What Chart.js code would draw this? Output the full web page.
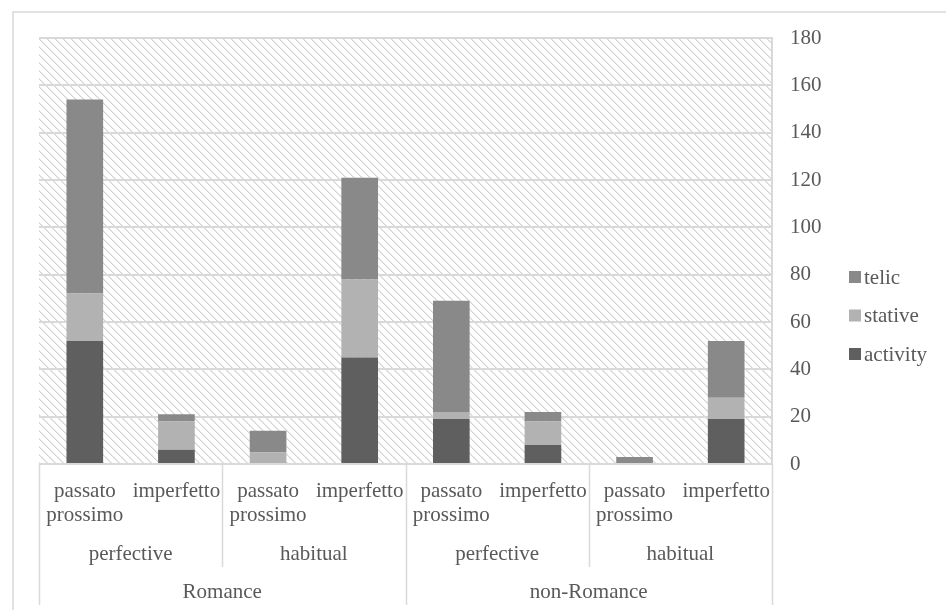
<!DOCTYPE html>
<html>
<head>
<meta charset="utf-8">
<script src="https://cdn.jsdelivr.net/npm/chart.js@4"></script>
<style>
  html, body { margin: 0; padding: 0; background: #ffffff; }
  #wrap { width: 946px; height: 610px; position: relative; }
</style>
</head>
<body>
<div id="wrap"><canvas id="chart"></canvas></div>
<script>
// Tense forms (innermost category level)
const forms = ['passato prossimo', 'imperfetto', 'passato prossimo', 'imperfetto',
               'passato prossimo', 'imperfetto', 'passato prossimo', 'imperfetto'];
// Aspect groups (middle level), each spanning two forms
const aspects = ['perfective', 'habitual', 'perfective', 'habitual'];
// Language groups (outer level), each spanning four forms
const languages = ['Romance', 'non-Romance'];

// Counts per aktionsart class
const activity = [52, 6, 0, 45, 19, 8, 0, 19];
const stative   = [20, 12, 5, 33, 3, 10, 0, 9];
const telic     = [82, 3, 9, 43, 47, 4, 3, 24];

// Value axis ticks
const yTicks = [0, 20, 40, 60, 80, 100, 120, 140, 160, 180];

const TEXT = '#595959';
const LINE = '#d9d9d9';
const FONT = '"Liberation Serif", "Times New Roman", serif';

// Diagonal hatch used for the plot background
function makeHatch() {
  const c = document.createElement('canvas');
  c.width = 8; c.height = 8;
  const g = c.getContext('2d');
  g.fillStyle = '#ffffff';
  g.fillRect(0, 0, 8, 8);
  for (let y = 0; y < 8; y++) {
    for (let x = 0; x < 8; x++) {
      const d = ((x - y) % 8 + 8) % 8;
      if (d === 0) { g.fillStyle = '#d4d4d4'; g.fillRect(x, y, 1, 1); }
      else if (d === 1) { g.fillStyle = '#e6e6e6'; g.fillRect(x, y, 1, 1); }
    }
  }
  return c;
}

const backdrop = {
  id: 'backdrop',
  beforeDraw(chart) {
    const { ctx, chartArea: a } = chart;
    ctx.save();
    // outer frame
    ctx.strokeStyle = LINE;
    ctx.lineWidth = 1.5;
    ctx.beginPath();
    ctx.moveTo(13, 1000);
    ctx.lineTo(13, 12);
    ctx.lineTo(1000, 12);
    ctx.stroke();
    // hatched plot area
    ctx.fillStyle = ctx.createPattern(makeHatch(), 'repeat');
    ctx.fillRect(a.left, a.top, a.right - a.left, a.bottom - a.top);
    ctx.restore();
  }
};

// Three-level category axis plus legend
const groupAxis = {
  id: 'groupAxis',
  afterDraw(chart) {
    const { ctx, chartArea: a } = chart;
    const xs = chart.scales.x;
    const n = forms.length;
    const step = (a.right - a.left) / n;
    const edge = i => a.left + step * i;
    ctx.save();
    ctx.strokeStyle = LINE;
    ctx.lineWidth = 1.5;
    const vline = (x, y2) => {
      ctx.beginPath();
      ctx.moveTo(Math.round(x) + 0.5, a.bottom);
      ctx.lineTo(Math.round(x) + 0.5, y2);
      ctx.stroke();
    };
    // outer separators
    [0, 4, 8].forEach(i => vline(edge(i), 605));
    // aspect separators
    [2, 6].forEach(i => vline(edge(i), 567));

    ctx.fillStyle = TEXT;
    ctx.font = '21px ' + FONT;
    ctx.textAlign = 'center';
    ctx.textBaseline = 'middle';
    forms.forEach((f, i) => {
      const cx = xs.getPixelForValue(i);
      const words = f.split(' ');
      if (words.length > 1) {
        ctx.fillText(words[0], cx, 491);
        ctx.fillText(words[1], cx, 515);
      } else {
        ctx.fillText(f, cx, 491);
      }
    });
    aspects.forEach((s, j) => {
      ctx.fillText(s, (edge(j * 2) + edge(j * 2 + 2)) / 2, 554);
    });
    languages.forEach((l, j) => {
      ctx.fillText(l, (edge(j * 4) + edge(j * 4 + 4)) / 2, 592);
    });

    // legend, top series first
    const items = [
      ['telic', chart.data.datasets[2].backgroundColor, 277],
      ['stative', chart.data.datasets[1].backgroundColor, 315.5],
      ['activity', chart.data.datasets[0].backgroundColor, 354]
    ];
    ctx.textAlign = 'left';
    items.forEach(([label, color, y]) => {
      ctx.fillStyle = color;
      ctx.fillRect(849, y - 6, 12, 12);
      ctx.fillStyle = TEXT;
      ctx.fillText(label, 864, y + 1);
    });
    ctx.restore();
  }
};

new Chart(document.getElementById('chart'), {
  type: 'bar',
  data: {
    labels: forms,
    datasets: [
      { label: 'activity', data: activity, backgroundColor: '#5f5f5f' },
      { label: 'stative', data: stative, backgroundColor: '#b2b2b2' },
      { label: 'telic', data: telic, backgroundColor: '#898989' }
    ]
  },
  options: {
    responsive: true,
    maintainAspectRatio: false,
    animation: false,
    layout: { padding: { left: 39, top: 38, right: 0, bottom: 0 } },
    datasets: { bar: { categoryPercentage: 1, barPercentage: 0.4 } },
    plugins: {
      legend: { display: false },
      tooltip: { enabled: false }
    },
    scales: {
      x: {
        stacked: true,
        grid: { display: false },
        border: { display: false },
        ticks: { display: false },
        afterFit(scale) { scale.height = 146; }
      },
      y: {
        stacked: true,
        position: 'right',
        min: 0,
        max: 180,
        afterBuildTicks(scale) { scale.ticks = yTicks.map(v => ({ value: v })); },
        grid: { color: LINE, lineWidth: 2, drawTicks: false },
        border: { color: LINE, width: 2 },
        ticks: {
          padding: 18,
          color: TEXT,
          font: { family: FONT, size: 21 }
        },
        afterFit(scale) { scale.width = 174; }
      }
    }
  },
  plugins: [backdrop, groupAxis]
});
</script>
</body>
</html>
